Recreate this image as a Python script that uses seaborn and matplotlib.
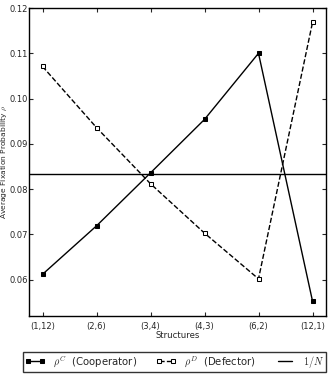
import matplotlib
matplotlib.use("Agg")
import matplotlib.pyplot as plt
import seaborn as sns
import pandas as pd
import numpy as np

structures = ["(1,12)", "(2,6)", "(3,4)", "(4,3)", "(6,2)", "(12,1)"]
rho_c = [0.0612, 0.0719, 0.0836, 0.0954, 0.1100, 0.0553]
rho_d = [0.1071, 0.0936, 0.0812, 0.0703, 0.0602, 0.1168]
one_over_n = 1 / 12
y_ticks = [0.06, 0.07, 0.08, 0.09, 0.10, 0.11, 0.12]

sns.set_style("ticks")
plt.rcParams["font.family"] = ["DejaVu Sans"]
plt.rcParams["font.size"] = 6
plt.rcParams["mathtext.fontset"] = "cm"

W, H = 332, 374
fig = plt.figure(figsize=(W / 100, H / 100), dpi=100)
ax = fig.add_axes([29 / W, 1 - 316 / H, (326 - 29) / W, (316 - 8) / H])

df = pd.DataFrame({"x": np.arange(len(structures)), "c": rho_c, "d": rho_d})
sns.lineplot(data=df, x="x", y="c", ax=ax, color="black", lw=1, marker="s",
             markersize=3.5, markeredgecolor="black", markerfacecolor="black",
             label=r"$\rho^C$  (Cooperator)")
sns.lineplot(data=df, x="x", y="d", ax=ax, color="black", lw=1, linestyle="--",
             dashes=(3, 2), marker="s", markersize=3.5, markeredgecolor="black",
             markerfacecolor="white", label=r"$\rho^D$  (Defector)")
ax.axhline(one_over_n, color="black", lw=1, label=r"$1/N$")

ax.set_xlim(-0.25, 5.25)
ax.set_ylim(0.052, 0.12)
ax.set_xticks(range(len(structures)))
ax.set_xticklabels(structures)
ax.set_yticks(y_ticks)
ax.set_yticklabels([f"{v:.2f}" for v in y_ticks])
ax.tick_params(direction="in", top=True, right=True, length=3, width=0.8, labelsize=6)
ax.tick_params(axis="y", pad=0.8)
ax.tick_params(axis="x", pad=4)
for s in ax.spines.values():
    s.set_linewidth(1)
    s.set_color("black")
ax.set_xlabel("Structures", fontsize=6.1, labelpad=0)
ax.set_ylabel("")
fig.text(4.8 / W, 1 - 162 / H, r"Average Fixation Probability $\rho$", fontsize=5.4,
         rotation=90, ha="center", va="center")

ax.get_legend().remove()
handles, labels = ax.get_legend_handles_labels()
leg = fig.legend(handles, labels, loc="upper left", ncol=3,
                 bbox_to_anchor=(23 / W, 1 - 351.5 / H), bbox_transform=fig.transFigure,
                 fontsize=7.3, frameon=True, fancybox=False, numpoints=2,
                 handlelength=1.95, columnspacing=1.9, borderpad=0.2, handletextpad=0.8,
                 borderaxespad=0)
leg.get_frame().set_edgecolor("black")
leg.get_frame().set_linewidth(1)

fig.savefig("out.png", dpi=100)
